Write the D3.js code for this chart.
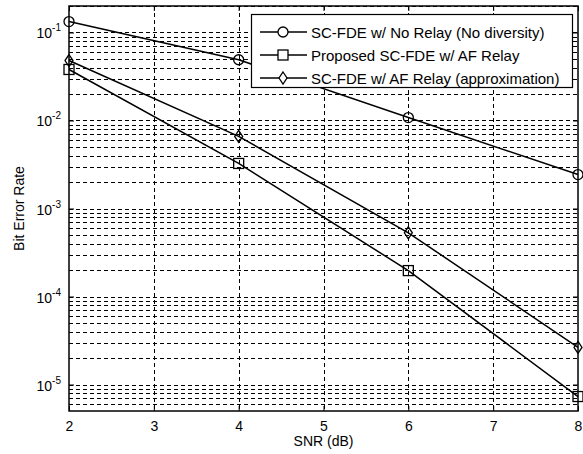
<!DOCTYPE html>
<html>
<head>
  <meta charset="utf-8">
  <title>BER vs SNR</title>
  <script src="https://d3js.org/d3.v7.min.js"></script>
  <style>
    body { margin: 0; background: #fff; }
    text { font-family: "Liberation Sans", Arial, sans-serif; fill: #000; }
  </style>
</head>
<body>
<svg width="583" height="454"></svg>
<script>
// data
var snr = [2, 4, 6, 8];
var berNoRelay = [0.133, 0.049, 0.0108, 0.00243];
var berProposed = [0.038, 0.00325, 0.000197, 0.0000073];
var berApprox = [0.048, 0.0066, 0.00053, 0.0000264];
var xTicks = [2, 3, 4, 5, 6, 7, 8];
var yTicks = [1e-1, 1e-2, 1e-3, 1e-4, 1e-5];
var seriesNames = [
  "SC-FDE w/ No Relay (No diversity)",
  "Proposed SC-FDE w/ AF Relay",
  "SC-FDE w/ AF Relay (approximation)"
];
var seriesMarkers = ["circle", "square", "diamond"];

var svg = d3.select("svg");
var pLeft = 69, pRight = 578, pTop = 6, pBottom = 411;

var x = d3.scaleLinear().domain([2, 8]).range([pLeft, pRight]);
var y = d3.scaleLog().domain([5e-6, 0.2]).range([pBottom, pTop]);

var grid = svg.append("g").attr("class", "grid")
  .attr("stroke", "#000").attr("stroke-width", 1)
  .attr("stroke-dasharray", "4,3");

// minor + major horizontal grid lines
var yGrid = [];
for (var e = -6; e <= -1; e++) {
  for (var m = 1; m <= 9; m++) {
    var v = m * Math.pow(10, e);
    if (v >= 5e-6 && v <= 0.2) yGrid.push(v);
  }
}
grid.selectAll("line.h")
  .data(yGrid)
  .enter().append("line")
    .attr("class", "h")
    .attr("x1", pLeft).attr("x2", pRight)
    .attr("y1", function (d) { return Math.round(y(d)) + 0.5 })
    .attr("y2", function (d) { return Math.round(y(d)) + 0.5 })

grid.selectAll("line.v")
  .data(xTicks.slice(1, -1))
  .enter().append("line")
    .attr("class", "v")
    .attr("y1", pTop).attr("y2", pBottom)
    .attr("x1", function (d) { return Math.round(x(d)) + 0.5 })
    .attr("x2", function (d) { return Math.round(x(d)) + 0.5 })

// axes with inward ticks on all sides
var xAxis = d3.axisBottom(x).tickValues(xTicks).tickSize(-5).tickPadding(10).tickFormat(d3.format("d"));
var xTop = d3.axisTop(x).tickValues(xTicks).tickSize(-5).tickFormat("");
var yAxis = d3.axisLeft(y).tickValues(yTicks).tickSize(-5).tickFormat("");
var yRight = d3.axisRight(y).tickValues(yTicks).tickSize(-5).tickFormat("");

function styleAxis(g) {
  g.select(".domain").remove();
  g.selectAll(".tick line").attr("stroke", "#000").attr("stroke-width", 1);
}

svg.append("g").attr("transform", "translate(0," + pBottom + ")").call(xAxis).call(styleAxis)
  .selectAll("text").attr("font-size", 14).attr("font-family", "Liberation Sans, Arial, sans-serif");
svg.append("g").attr("transform", "translate(0," + pTop + ")").call(xTop).call(styleAxis);
svg.append("g").attr("transform", "translate(" + pLeft + ",0)").call(yAxis).call(styleAxis);
svg.append("g").attr("transform", "translate(" + pRight + ",0)").call(yRight).call(styleAxis);

// y tick labels as 10^n
var yLab = svg.append("g").attr("class", "ylabels");
yTicks.forEach(function (t) {
  var txt = yLab.append("text")
    .attr("x", pLeft - 8)
    .attr("y", y(t) + 6)
    .attr("text-anchor", "end")
    .attr("font-size", 14);
  txt.append("tspan").text("10");
  txt.append("tspan").attr("dy", -7).attr("font-size", 10).text(String(Math.round(Math.log10(t))));
});

// frame
svg.append("rect")
  .attr("x", pLeft).attr("y", pTop)
  .attr("width", pRight - pLeft).attr("height", pBottom - pTop)
  .attr("fill", "none").attr("stroke", "#000").attr("stroke-width", 1.5);

// series
var allSeries = [berNoRelay, berProposed, berApprox];
var line = d3.line()
  .x(function (d, i) { return x(snr[i]) })
  .y(function (d) { return y(d) });

function drawMarker(g, kind, cx, cy) {
  if (kind === "circle") {
    g.append("circle").attr("cx", cx).attr("cy", cy).attr("r", 5);
  } else if (kind === "square") {
    g.append("rect").attr("x", cx - 5).attr("y", cy - 5).attr("width", 10).attr("height", 10);
  } else {
    g.append("path").attr("d", "M" + cx + "," + (cy - 6) + "L" + (cx + 4) + "," + cy +
      "L" + cx + "," + (cy + 6) + "L" + (cx - 4) + "," + cy + "Z");
  }
}

var plot = svg.append("g").attr("class", "series");
allSeries.forEach(function (vals, k) {
  plot.append("path")
    .datum(vals)
    .attr("d", line)
    .attr("fill", "none")
    .attr("stroke", "#000")
    .attr("stroke-width", 1.5);
  var mg = plot.append("g").attr("fill", "none").attr("stroke", "#000").attr("stroke-width", 1.3);
  vals.forEach(function (v, i) {
    drawMarker(mg, seriesMarkers[k], x(snr[i]), y(v));
  });
});

// legend
var lg = svg.append("g").attr("class", "legend");
lg.append("rect")
  .attr("x", 251.5).attr("y", 14.5)
  .attr("width", 321).attr("height", 73)
  .attr("fill", "#fff").attr("stroke", "#000").attr("stroke-width", 1.2);
seriesNames.forEach(function (name, k) {
  var ly = 32 + k * 23;
  lg.append("line")
    .attr("x1", 260).attr("x2", 307)
    .attr("y1", ly).attr("y2", ly)
    .attr("stroke", "#000").attr("stroke-width", 1.5);
  var mg = lg.append("g").attr("fill", "#fff").attr("stroke", "#000").attr("stroke-width", 1.3);
  drawMarker(mg, seriesMarkers[k], 283, ly);
  lg.append("text")
    .attr("x", 311).attr("y", ly + 5.5)
    .attr("font-size", 15)
    .text(name);
});

// axis titles
svg.append("text")
  .attr("x", (pLeft + pRight) / 2).attr("y", 446)
  .attr("text-anchor", "middle")
  .attr("font-size", 14)
  .text("SNR (dB)");

svg.append("text")
  .attr("transform", "translate(24," + (pTop + pBottom) / 2 + ") rotate(-90)")
  .attr("text-anchor", "middle")
  .attr("font-size", 14)
  .text("Bit Error Rate");
</script>
</body>
</html>
